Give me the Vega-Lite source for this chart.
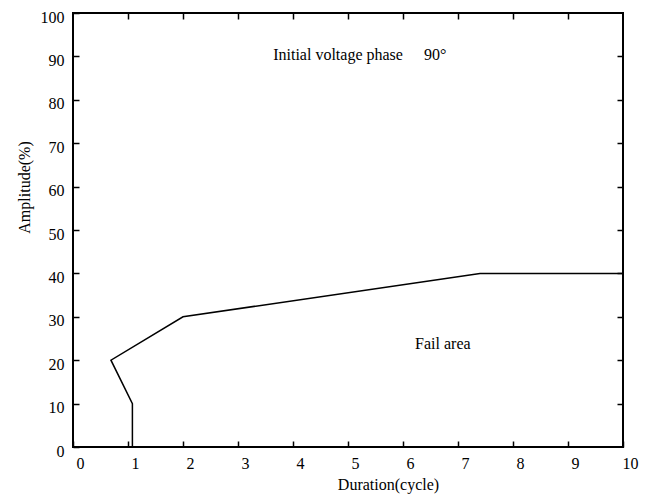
{
  "$schema": "https://vega.github.io/schema/vega-lite/v6.json",
  "width": 550,
  "height": 434,
  "autosize": {"type": "none"},
  "padding": {"left": 73, "top": 13, "right": 30, "bottom": 47},
  "config": {
    "view": {"stroke": "black", "strokeWidth": 2},
    "font": "Liberation Serif",
    "text": {"font": "Liberation Serif"},
    "axis": {
      "domain": false,
      "grid": false,
      "tickColor": "black",
      "tickWidth": 1.5,
      "tickSize": -6,
      "labelColor": "black",
      "labelFontSize": 16,
      "labelFont": "Liberation Serif",
      "titleColor": "black",
      "titleFontSize": 16,
      "titleFont": "Liberation Serif",
      "titleFontWeight": "normal"
    }
  },
  "layer": [
    {
      "data": {
        "values": [
          {"seq": 1, "duration": 1.08, "amplitude": 0},
          {"seq": 2, "duration": 1.08, "amplitude": 10},
          {"seq": 3, "duration": 0.69, "amplitude": 20},
          {"seq": 4, "duration": 2.0, "amplitude": 30},
          {"seq": 5, "duration": 7.4, "amplitude": 40},
          {"seq": 6, "duration": 10.0, "amplitude": 40}
        ]
      },
      "mark": {"type": "line", "color": "black", "strokeWidth": 1.5, "clip": true},
      "encoding": {
        "x": {
          "field": "duration",
          "type": "quantitative",
          "scale": {"domain": [0, 10], "nice": false},
          "axis": {
            "orient": "bottom",
            "values": [0, 1, 2, 3, 4, 5, 6, 7, 8, 9, 10],
            "labelFont": "Liberation Serif",
            "labelPadding": 14,
            "labelOffset": 7,
            "labelFlush": false,
            "labelOverlap": false,
            "title": "Duration(cycle)",
            "titleX": 315,
            "titleY": 37,
            "titleBaseline": "middle",
            "titleAlign": "center"
          }
        },
        "y": {
          "field": "amplitude",
          "type": "quantitative",
          "scale": {"domain": [0, 100], "nice": false},
          "axis": {
            "orient": "left",
            "values": [0, 10, 20, 30, 40, 50, 60, 70, 80, 90, 100],
            "labelFont": "Liberation Serif",
            "labelPadding": 15,
            "labelOffset": 4,
            "labelFlush": false,
            "labelOverlap": false,
            "title": "Amplitude(%)",
            "titleX": -49,
            "titleY": 174,
            "titleAngle": -90,
            "titleBaseline": "middle",
            "titleAlign": "center"
          }
        },
        "order": {"field": "seq", "type": "quantitative"}
      }
    },
    {
      "data": {
        "values": [
          {"label": "Initial voltage phase", "px": 3.64, "py": 90.3},
          {"label": "90°", "px": 6.38, "py": 90.3},
          {"label": "Fail area", "px": 6.22, "py": 23.7}
        ]
      },
      "mark": {"type": "text", "align": "left", "baseline": "middle", "fontSize": 16, "font": "Liberation Serif", "color": "black"},
      "encoding": {
        "x": {
          "field": "px",
          "type": "quantitative",
          "axis": {"orient": "top", "values": [1, 2, 3, 4, 5, 6, 7, 8, 9], "labels": false, "title": null}
        },
        "y": {
          "field": "py",
          "type": "quantitative",
          "axis": {"orient": "right", "values": [10, 20, 30, 40, 50, 60, 70, 80, 90], "labels": false, "title": null}
        },
        "text": {"field": "label", "type": "nominal"}
      }
    }
  ],
  "resolve": {"axis": {"x": "independent", "y": "independent"}}
}
